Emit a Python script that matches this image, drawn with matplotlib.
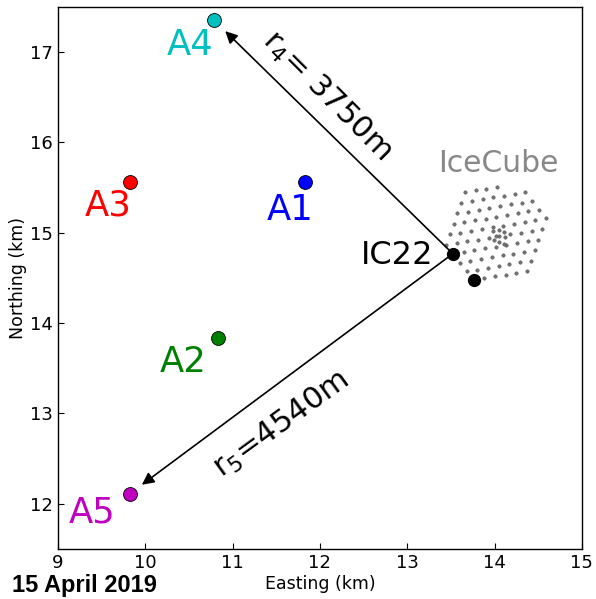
import matplotlib
matplotlib.use("Agg")
import matplotlib.pyplot as plt

# Antenna / station positions (km)
names = ["A1", "A2", "A3", "A4", "A5"]
east = [11.83, 10.83, 9.82, 10.79, 9.82]
north = [15.56, 13.83, 15.56, 17.35, 12.11]
colors = ["#0000ff", "#008000", "#ff0000", "#00bfbf", "#bf00bf"]
label_east = [11.66, 10.43, 9.57, 10.51, 9.39]
label_north = [15.25, 13.57, 15.30, 17.08, 11.90]

ic22 = (13.522, 14.768)
other_string = (13.759, 14.476)

# IceCube string positions (km)
ice_x = [13.660, 13.783, 13.906, 14.028,
         13.617, 13.740, 13.862, 13.985, 14.107, 14.230, 14.353,
         13.574, 13.696, 13.819, 13.941, 14.064, 14.187, 14.309, 14.432,
         13.530, 13.653, 13.775, 13.898, 14.020, 14.143, 14.266, 14.388, 14.511,
         13.487, 13.609, 13.732, 13.854, 13.977, 14.100, 14.222, 14.345, 14.467, 14.590,
         13.443, 13.566, 13.688, 13.811, 13.933, 14.056, 14.179, 14.301, 14.424, 14.546,
         13.645, 13.767, 13.890, 14.013, 14.135, 14.258, 14.380, 14.503,
         13.601, 13.724, 13.846, 13.969, 14.092, 14.214, 14.337, 14.459,
         13.680, 13.803, 13.926, 14.048, 14.171, 14.293, 14.416,
         13.882, 14.005, 14.127, 14.250, 14.372,
         13.979, 14.048, 14.105, 14.018, 14.121, 13.999, 14.056, 14.105]
ice_y = [15.449, 15.468, 15.488, 15.508,
         15.332, 15.352, 15.371, 15.391, 15.411, 15.430, 15.450,
         15.215, 15.235, 15.254, 15.274, 15.294, 15.314, 15.333, 15.353,
         15.098, 15.118, 15.138, 15.157, 15.177, 15.197, 15.216, 15.236, 15.256,
         14.981, 15.001, 15.021, 15.040, 15.060, 15.080, 15.100, 15.119, 15.139, 15.159,
         14.865, 14.884, 14.904, 14.924, 14.943, 14.963, 14.983, 15.002, 15.022, 15.042,
         14.787, 14.807, 14.827, 14.846, 14.866, 14.886, 14.905, 14.925,
         14.670, 14.690, 14.710, 14.730, 14.749, 14.769, 14.789, 14.808,
         14.573, 14.593, 14.613, 14.632, 14.652, 14.672, 14.692,
         14.496, 14.516, 14.535, 14.555, 14.575,
         15.018, 15.026, 15.004, 14.963, 14.952, 14.915, 14.900, 14.871]

xticks = [9, 10, 11, 12, 13, 14, 15]
yticks = [12, 13, 14, 15, 16, 17]

fig = plt.figure(figsize=(5.96, 5.99), dpi=100)
ax = fig.add_axes([0.0973, 0.0835, 0.879, 0.905])

ax.scatter(ice_x, ice_y, s=6, color="0.45", edgecolors="0.35", linewidths=0.4, zorder=2)

# arrows
for target in (3, 4):
    ax.annotate("", xy=(east[target], north[target]), xytext=ic22,
                arrowprops=dict(arrowstyle="-|>", color="black", lw=1.2,
                                mutation_scale=18, shrinkA=0, shrinkB=11),
                zorder=3)

for x, y, c in zip(east, north, colors):
    ax.plot(x, y, "o", ms=10, color=c, mec="black", mew=0.6, zorder=4)
for n, x, y, c in zip(names, label_east, label_north, colors):
    ax.text(x, y, n, color=c, fontsize=25.5, ha="center", va="center", zorder=5)

ax.plot(*ic22, "o", ms=8.5, color="black", zorder=4)
ax.plot(*other_string, "o", ms=8.5, color="black", zorder=4)
ax.text(12.88, 14.75, "IC22", fontsize=23, ha="center", va="center", color="black")
ax.text(14.04, 15.77, "IceCube", fontsize=21.5, ha="center", va="center", color="#888888")

ax.text(12.08, 16.52, r"r$_4$= 3750m", fontsize=22, rotation=-45,
        ha="center", va="center", rotation_mode="anchor")
ax.text(11.56, 12.88, r"r$_5$=4540m", fontsize=22, rotation=36,
        ha="center", va="center", rotation_mode="anchor")

ax.set_xlim(9, 15)
ax.set_ylim(11.5, 17.5)
ax.set_xticks(xticks)
ax.set_yticks(yticks)
ax.tick_params(direction="in", labelsize=13, length=4, width=0.8)
ax.set_xlabel("Easting (km)", fontsize=12.5, labelpad=2)
ax.set_ylabel("Northing (km)", fontsize=12.5, labelpad=2)
for s in ax.spines.values():
    s.set_linewidth(1.0)

fig.text(0.02, 0.003, "15 April 2019", fontsize=17, fontweight="heavy",
         family="Liberation Sans", ha="left", va="bottom")

fig.savefig("out.png", dpi=100)
